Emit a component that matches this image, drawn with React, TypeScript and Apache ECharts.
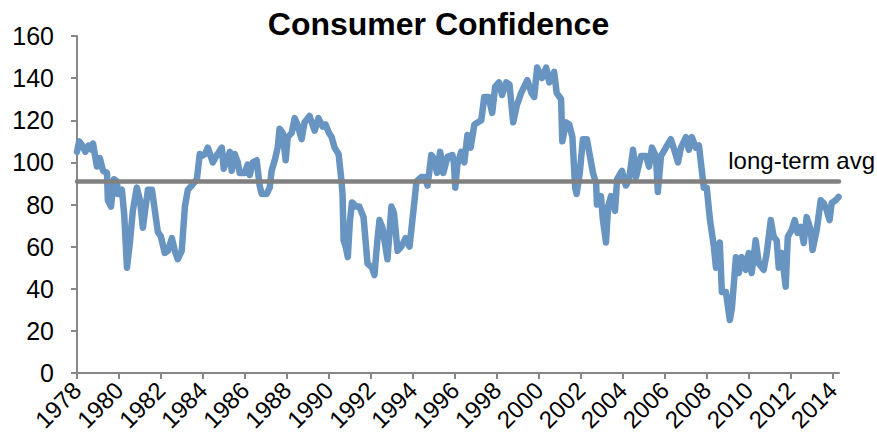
import React, { useEffect, useRef } from "react";
import * as echarts from "echarts";

const titleText = "Consumer Confidence";
const avgLabel = "long-term avg";
const longTermAvg = 91.2;

const yearTicks = [1978, 1980, 1982, 1984, 1986, 1988, 1990, 1992, 1994, 1996, 1998, 2000, 2002, 2004, 2006, 2008, 2010, 2012, 2014];

const years = [
  1978.0, 1978.1, 1978.25, 1978.4, 1978.55, 1978.7, 1978.76, 1978.95,
  1979.09, 1979.24, 1979.43, 1979.47, 1979.62, 1979.76, 1979.9, 1979.95,
  1980.14, 1980.25, 1980.38, 1980.52, 1980.66, 1980.85,
  1981.0, 1981.14, 1981.23, 1981.38, 1981.57, 1981.71, 1981.85, 1981.99,
  1982.18, 1982.33, 1982.52, 1982.66, 1982.8, 1982.99,
  1983.14, 1983.28, 1983.47, 1983.71, 1983.85, 1983.94,
  1984.1, 1984.23, 1984.47, 1984.7, 1984.9, 1984.99,
  1985.13, 1985.28, 1985.37, 1985.51, 1985.66, 1985.75, 1985.99,
  1986.13, 1986.23, 1986.37, 1986.56, 1986.7, 1986.8,
  1987.03, 1987.18, 1987.27, 1987.42, 1987.56, 1987.65, 1987.8, 1987.94,
  1988.04, 1988.23, 1988.37, 1988.5, 1988.7, 1988.84,
  1989.08, 1989.32, 1989.5, 1989.7, 1989.84,
  1990.0, 1990.13, 1990.27, 1990.46, 1990.58, 1990.65, 1990.7, 1990.8, 1990.9,
  1991.0, 1991.1, 1991.3, 1991.45, 1991.65, 1991.84,
  1992.05, 1992.17, 1992.3, 1992.41, 1992.55, 1992.79, 1992.98,
  1993.1, 1993.27, 1993.45, 1993.65, 1993.84,
  1994.07, 1994.17, 1994.4, 1994.55, 1994.7, 1994.88,
  1995.0, 1995.15, 1995.3, 1995.45, 1995.65, 1995.88, 1995.95,
  1996.02, 1996.12, 1996.3, 1996.45, 1996.6, 1996.75, 1996.93,
  1997.1, 1997.26, 1997.4, 1997.6, 1997.78, 1997.92,
  1998.1, 1998.25, 1998.45, 1998.6, 1998.78, 1998.95,
  1999.16, 1999.45, 1999.65, 1999.78, 1999.92,
  2000.15, 2000.35, 2000.5, 2000.73, 2000.85,
  2001.06, 2001.12, 2001.3, 2001.45, 2001.6, 2001.73, 2001.8, 2001.95,
  2002.1, 2002.29, 2002.49, 2002.58, 2002.73, 2002.77, 2002.96,
  2003.05, 2003.2, 2003.3, 2003.44, 2003.63, 2003.73, 2003.96,
  2004.15, 2004.3, 2004.49, 2004.63, 2004.87,
  2005.11, 2005.25, 2005.39, 2005.58, 2005.67, 2005.82,
  2006.05, 2006.29, 2006.48, 2006.63, 2006.77,
  2007.01, 2007.15, 2007.29, 2007.48, 2007.63, 2007.72, 2007.86,
  2008.0, 2008.15, 2008.34, 2008.44, 2008.62, 2008.72, 2008.91,
  2009.1, 2009.2, 2009.39, 2009.53, 2009.67, 2009.86,
  2010.0, 2010.14, 2010.33, 2010.48, 2010.71, 2010.86,
  2011.05, 2011.19, 2011.33, 2011.43, 2011.57, 2011.76, 2011.86,
  2012.05, 2012.19, 2012.33, 2012.48, 2012.62, 2012.76, 2012.95,
  2013.04, 2013.24, 2013.43, 2013.57, 2013.71, 2013.85, 2013.95,
  2014.14, 2014.28,
];

const confidence = [
  105, 110, 108, 105, 108, 106, 109, 98,
  102, 96, 95, 82, 79, 92, 91, 85,
  87, 75, 50, 62, 77, 88,
  82, 69, 76, 87, 87, 77, 67, 65,
  57, 58, 64, 58, 54, 58,
  79, 87, 89, 92, 104, 103,
  104, 107, 100, 104, 107, 97,
  101, 105, 96, 104, 100, 95, 95,
  99, 94, 100, 101, 89, 85,
  85, 88, 96, 101, 107, 116, 114, 101,
  112, 114, 121, 118, 111, 119,
  122, 115, 121, 117, 118,
  114, 112, 107, 104, 93, 85, 63, 60, 55,
  72, 81, 79, 79, 74, 52,
  50, 46.5, 62, 72.6, 69, 54, 79,
  76, 58, 60, 64, 60,
  81, 91, 93, 93, 89, 103.5,
  102, 95, 105, 95, 102.6, 103.5, 100,
  88, 99, 105, 100, 113, 107, 118,
  119, 120, 131, 131, 123.5, 136,
  138, 132, 138, 137, 119, 127,
  133, 139, 133, 131, 145,
  140, 145, 138, 143, 133,
  130, 110, 119, 118, 112, 88, 85, 95,
  111, 111, 100, 95, 90, 80, 84,
  73, 62, 79, 84, 77, 92, 96,
  89, 92, 106, 93, 103,
  103, 98, 107, 103, 86, 103,
  107, 111, 105, 100, 107,
  112, 106, 112, 107, 108, 100, 88,
  88, 73, 60, 50, 62, 38.5, 38.5,
  25.2, 31, 55, 47.5, 55, 49,
  57, 47.5, 63, 52, 49, 57,
  72.6, 64.6, 63, 50, 57, 41, 64.6,
  68, 72.6, 66.5, 69.4, 61.7, 74, 68,
  58.4, 68, 82, 80.7, 77.4, 72.6, 80.7,
  82, 83.6,
];

const FONT = "'Liberation Sans', Arial, sans-serif";
const AXIS_GRAY = "#878787";

export default function App() {
  const ref = useRef<HTMLDivElement>(null);

  useEffect(() => {
    if (!ref.current) return;
    const chart = echarts.init(ref.current, undefined, { renderer: "svg" });
    const seriesData = years.map((y, i) => [y, confidence[i]]);
    chart.setOption({
      animation: false,
      backgroundColor: "#ffffff",
      title: {
        text: titleText,
        left: "center",
        top: 3,
        textStyle: { fontFamily: FONT, fontSize: 32, fontWeight: "bold", color: "#000" },
      },
      grid: { left: 77, right: 38, top: 36, bottom: 72, containLabel: false },
      xAxis: {
        type: "value",
        min: 1978,
        max: 2014.3,
        axisLine: { show: true, lineStyle: { color: AXIS_GRAY, width: 2 } },
        axisTick: {
          show: true,
          length: 6,
          customValues: yearTicks,
          lineStyle: { color: AXIS_GRAY, width: 2 },
        },
        axisLabel: {
          customValues: yearTicks,
          rotate: 45,
          margin: 13,
          fontFamily: FONT,
          fontSize: 24,
          color: "#000",
          formatter: (v: number) => String(Math.round(v)),
        },
        splitLine: { show: false },
      },
      yAxis: {
        type: "value",
        min: 0,
        max: 160,
        interval: 20,
        axisLine: { show: true, lineStyle: { color: AXIS_GRAY, width: 2 } },
        axisTick: { show: true, length: 6, lineStyle: { color: AXIS_GRAY, width: 2 } },
        axisLabel: { margin: 23, fontFamily: FONT, fontSize: 25, color: "#000" },
        splitLine: { show: false },
      },
      series: [
        {
          type: "line",
          data: seriesData,
          showSymbol: false,
          symbol: "none",
          lineStyle: { color: "#6794c0", width: 6.5, cap: "round", join: "round" },
          markLine: {
            silent: true,
            symbol: "none",
            lineStyle: { color: "#808080", width: 4.5, type: "solid", cap: "round" },
            label: {
              show: true,
              formatter: avgLabel,
              position: "insideEndTop",
              distance: 8,
              offset: [44, 0],
              fontFamily: FONT,
              fontSize: 24,
              color: "#000",
            },
            data: [{ yAxis: longTermAvg }],
          },
        },
      ],
    });
    return () => chart.dispose();
  }, []);

  return (
    <div
      ref={ref}
      style={{ position: "fixed", left: 0, top: 0, width: 877, height: 445, background: "#fff" }}
    />
  );
}
